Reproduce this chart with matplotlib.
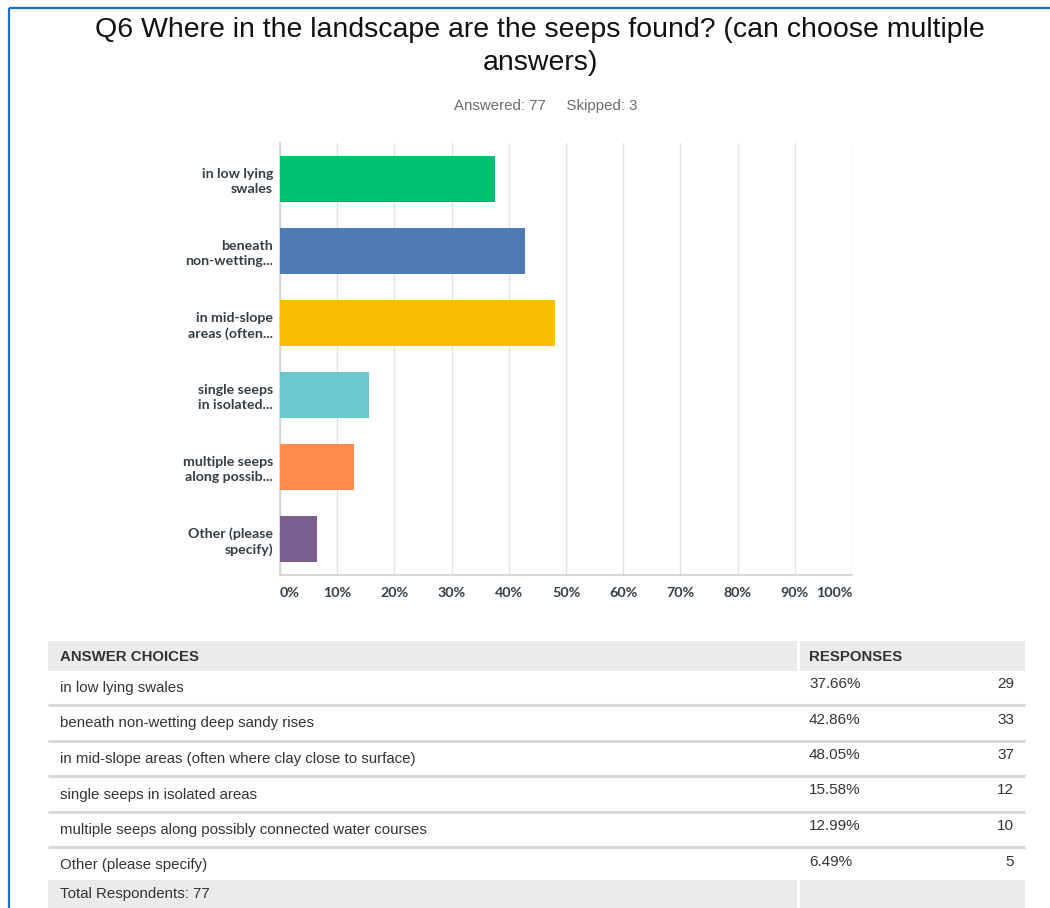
'''
Q6 seeps survey : horizontal bars + response table
'''

import numpy as np
import matplotlib.pyplot as plt
from matplotlib.patches import Rectangle

# ═══ Data ═════════════════════════════════════════════════════════════════

short_labels = ['in low lying\nswales', 'beneath\nnon-wetting...', 'in mid-slope\nareas (often...',
                'single seeps\nin isolated...', 'multiple seeps\nalong possib...', 'Other (please\nspecify)']
full_labels = ['in low lying swales', 'beneath non-wetting deep sandy rises',
               'in mid-slope areas (often where clay close to surface)',
               'single seeps in isolated areas',
               'multiple seeps along possibly connected water courses',
               'Other (please specify)']
pct = [37.66, 42.86, 48.05, 15.58, 12.99, 6.49]
counts = [29, 33, 37, 12, 10, 5]
colors = ['#00bf6f', '#507cb6', '#f9be00', '#6bc8cd', '#ff8b4f', '#7d5e90']
x_ticks = np.arange(0, 101, 10)
answered, skipped, total = 77, 3, 77

# ═══ Figure ═══════════════════════════════════════════════════════════════

W, H = 1050, 908
fig = plt.figure(figsize=(W/100, H/100), dpi=100)
fig.patch.set_facecolor('white')

# overlay in pixel coordinates for the page decorations and the table
ov = fig.add_axes([0, 0, 1, 1])
ov.set_xlim(0, W)
ov.set_ylim(H, 0)
ov.axis('off')

sans = ['Liberation Sans', 'DejaVu Sans']
lato = ['Lato', 'DejaVu Sans']
txt = '#333333'

# blue page border
ov.plot([8.5, W], [7.5, 7.5], color='#1a6fc7', lw=1.6, solid_capstyle='butt')
ov.plot([8.5, 8.5], [7.5, H], color='#1a6fc7', lw=1.6, solid_capstyle='butt')

# ─── Titles ───────────────────────────────────────────────────────────────

ov.text(540, 30, 'Q6 Where in the landscape are the seeps found? (can choose multiple',
        ha='center', va='center', fontsize=20.5, family=sans, color='#111111')
ov.text(540, 63, 'answers)', ha='center', va='center', fontsize=20.5, family=sans, color='#111111')
ov.text(546, 106, f'Answered: {answered}     Skipped: {skipped}', ha='center', va='center',
        fontsize=10.8, family=sans, color='#6b6b6b')

# ─── Bar chart ────────────────────────────────────────────────────────────

ax = fig.add_axes([280/W, (H-575)/H, 572/W, 432/H])
y = np.arange(len(pct))
ax.barh(y, pct, height=0.65, color=colors, zorder=3)
ax.set_xlim(0, 100)
ax.set_ylim(len(pct)-0.5, -0.5)

ax.set_xticks(x_ticks)
ax.set_xticklabels([])
ax.grid(axis='x', color='#e3e3e3', lw=1, zorder=0)
ax.set_yticks(y)
ax.set_yticklabels(short_labels, fontsize=10.2, family=lato,
                   fontweight='bold', color='#333e48', linespacing=1.3)
ax.tick_params(length=0, pad=5)
for s in ['top', 'right']:
  ax.spines[s].set_visible(False)
for s in ['left', 'bottom']:
  ax.spines[s].set_color('#cfcfcf')
  ax.spines[s].set_linewidth(1.2)

# x tick labels (first and last kept inside the axis)
for t in x_ticks:
  ha = 'left' if t == 0 else ('right' if t == 100 else 'center')
  ax.text(t, -0.042, f'{t}%', transform=ax.get_xaxis_transform(), ha=ha, va='center',
          fontsize=10.3, family=lato, fontweight='bold', color='#333e48')

# ─── Table ────────────────────────────────────────────────────────────────

tx0, tx1, tdiv = 48, 1025, 798
band = '#ebebeb'
ov.add_patch(Rectangle((tx0, 641), tx1-tx0, 30, color=band, lw=0))
ov.add_patch(Rectangle((tx0, 880), tx1-tx0, 30, color=band, lw=0))
for yy in [641, 880]:
  ov.add_patch(Rectangle((tdiv-1.5, yy), 3, 30, color='white', lw=0))

ov.text(60, 657, 'ANSWER CHOICES', ha='left', va='center', fontsize=10.8,
        family=sans, fontweight='bold', color=txt)
ov.text(809, 657, 'RESPONSES', ha='left', va='center', fontsize=10.8,
        family=sans, fontweight='bold', color=txt)

row_h = 35.5
for i, (lab, p, c) in enumerate(zip(full_labels, pct, counts)):
  y0 = 688 + row_h*i
  ov.text(60, y0, lab, ha='left', va='center', fontsize=10.8, family=sans, color=txt)
  ov.text(809, y0-4, f'{p:.2f}%', ha='left', va='center', fontsize=11, family=sans, color=txt)
  ov.text(1014, y0-4, f'{c}', ha='right', va='center', fontsize=11, family=sans, color=txt)
  if i < len(pct)-1:
    ov.plot([tx0, tx1], [y0+17, y0+17], color='#d9d9d9', lw=2.2, solid_capstyle='butt')

ov.text(60, 894, f'Total Respondents: {total}', ha='left', va='center', fontsize=10.8,
        family=sans, color=txt)

fig.savefig('out.png', dpi=100)
